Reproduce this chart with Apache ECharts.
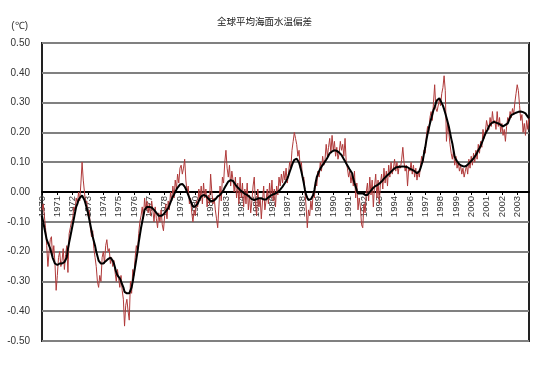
<!DOCTYPE html>
<html>
<head>
<meta charset="utf-8">
<script src="https://cdn.jsdelivr.net/npm/echarts@6/dist/echarts.min.js"></script>
<style>
html,body{margin:0;padding:0;background:#fff;}
#c{width:550px;height:370px;}
</style>
</head>
<body>
<div id="c"></div>
<script>
const chartTitle = '全球平均海面水温偏差';
const unitLabel = '(℃)';
const startYear = 1970;
const yTicks = [-0.5,-0.4,-0.3,-0.2,-0.1,0,0.1,0.2,0.3,0.4,0.5];

// monthly anomaly (red), Jan 1970 - Jun 2004
const monthly = [
-0.06,-0.04,-0.08,-0.12,-0.18,-0.25,-0.20,-0.16,-0.15,-0.22,-0.18,-0.24,
-0.33,-0.28,-0.22,-0.20,-0.25,-0.23,-0.19,-0.26,-0.21,-0.18,-0.27,-0.14,
-0.12,-0.10,-0.09,-0.05,-0.06,-0.02,-0.04,0.00,-0.03,0.03,0.10,0.04,
0.00,-0.04,-0.03,-0.08,-0.06,-0.12,-0.15,-0.13,-0.19,-0.22,-0.25,-0.30,
-0.32,-0.28,-0.30,-0.22,-0.20,-0.24,-0.18,-0.16,-0.20,-0.19,-0.24,-0.22,
-0.25,-0.23,-0.27,-0.30,-0.26,-0.29,-0.32,-0.28,-0.33,-0.36,-0.45,-0.38,
-0.36,-0.40,-0.43,-0.30,-0.34,-0.26,-0.28,-0.22,-0.18,-0.20,-0.14,-0.10,
-0.08,-0.05,-0.09,-0.02,-0.06,-0.03,-0.07,-0.04,-0.08,-0.03,-0.06,-0.10,
-0.05,-0.09,-0.12,-0.07,-0.10,-0.06,-0.11,-0.13,-0.08,-0.04,-0.09,-0.03,
-0.06,0.00,-0.03,0.02,-0.02,0.04,0.01,0.06,0.03,0.08,0.09,0.06,
0.08,0.11,0.04,0.00,0.02,-0.04,-0.02,-0.07,-0.10,-0.06,-0.08,-0.03,
-0.05,0.01,-0.03,0.02,-0.04,0.03,-0.02,0.01,-0.05,-0.01,-0.04,0.06,
0.00,-0.04,-0.02,-0.06,-0.09,-0.12,-0.05,0.02,-0.03,0.05,0.03,0.10,
0.14,0.08,0.05,0.09,0.02,0.07,0.04,0.00,0.05,-0.02,0.03,-0.04,
0.05,-0.02,0.03,-0.05,0.01,-0.04,0.03,-0.06,-0.01,-0.07,-0.03,0.02,
0.05,-0.04,-0.08,0.01,-0.05,-0.02,-0.09,-0.03,0.02,-0.06,-0.03,0.01,
-0.04,0.03,-0.02,0.04,-0.03,0.01,-0.05,0.02,-0.01,0.05,0.02,0.06,
0.03,0.07,0.04,0.08,0.03,0.06,0.10,0.08,0.14,0.17,0.20,0.18,
0.16,0.12,0.14,0.08,0.10,0.04,0.05,0.00,-0.05,-0.12,-0.06,-0.08,
-0.03,-0.06,0.00,-0.02,0.04,0.02,0.07,0.05,0.10,0.07,0.12,0.09,
0.11,0.16,0.12,0.15,0.18,0.13,0.19,0.14,0.17,0.12,0.15,0.11,
0.13,0.17,0.14,0.16,0.12,0.18,0.10,0.08,0.05,0.07,0.03,0.06,
0.02,0.07,-0.02,0.03,-0.06,-0.02,-0.05,-0.11,-0.12,-0.04,-0.07,0.00,
0.03,-0.03,0.05,-0.01,0.04,-0.05,0.02,0.06,-0.02,0.04,-0.04,0.03,
0.06,0.01,0.08,0.03,0.07,0.02,0.09,0.05,0.10,0.06,0.08,0.11,
0.07,0.10,0.06,0.09,0.08,0.11,0.15,0.10,0.07,0.09,0.02,0.08,
0.07,0.10,0.06,0.09,0.05,0.08,0.04,0.07,0.05,0.09,0.12,0.10,
0.14,0.13,0.19,0.22,0.20,0.25,0.27,0.24,0.30,0.36,0.28,0.27,
0.27,0.31,0.29,0.33,0.35,0.39,0.34,0.17,0.23,0.20,0.16,0.13,
0.11,0.14,0.09,0.12,0.08,0.10,0.07,0.09,0.06,0.08,0.05,0.07,
0.09,0.06,0.11,0.08,0.12,0.09,0.13,0.10,0.14,0.11,0.16,0.13,
0.17,0.15,0.21,0.18,0.20,0.24,0.22,0.21,0.25,0.22,0.27,0.23,
0.24,0.21,0.27,0.22,0.25,0.20,0.23,0.19,0.21,0.17,0.22,0.25,
0.24,0.27,0.25,0.28,0.26,0.30,0.33,0.36,0.34,0.29,0.24,0.26,
0.20,0.23,0.19,0.24,0.21,0.25
];

// smoothed anomaly (black)
const smoothed = [
-0.08,-0.10,-0.12,-0.14,-0.16,-0.17,-0.18,-0.19,-0.205,-0.22,-0.23,-0.24,
-0.24,-0.245,-0.245,-0.24,-0.245,-0.24,-0.24,-0.235,-0.23,-0.22,-0.19,-0.17,
-0.15,-0.13,-0.11,-0.09,-0.07,-0.05,-0.04,-0.027,-0.02,-0.015,-0.012,-0.015,
-0.027,-0.04,-0.055,-0.07,-0.09,-0.11,-0.13,-0.15,-0.165,-0.18,-0.20,-0.215,
-0.23,-0.235,-0.24,-0.24,-0.24,-0.235,-0.232,-0.23,-0.225,-0.22,-0.22,-0.225,
-0.23,-0.24,-0.255,-0.27,-0.28,-0.285,-0.29,-0.30,-0.305,-0.32,-0.335,-0.34,
-0.34,-0.34,-0.34,-0.335,-0.32,-0.30,-0.275,-0.25,-0.225,-0.20,-0.17,-0.145,
-0.12,-0.10,-0.08,-0.06,-0.055,-0.05,-0.05,-0.05,-0.05,-0.052,-0.055,-0.06,
-0.065,-0.07,-0.075,-0.08,-0.08,-0.08,-0.078,-0.075,-0.07,-0.065,-0.06,-0.055,
-0.045,-0.035,-0.025,-0.015,-0.008,0.0,0.008,0.015,0.02,0.025,0.027,0.027,
0.025,0.018,0.01,0.0,-0.01,-0.02,-0.03,-0.04,-0.05,-0.05,-0.048,-0.045,
-0.04,-0.03,-0.022,-0.015,-0.012,-0.01,-0.01,-0.013,-0.018,-0.022,-0.027,-0.03,
-0.03,-0.03,-0.028,-0.025,-0.02,-0.015,-0.015,-0.01,-0.005,0.0,0.007,0.015,
0.022,0.028,0.035,0.038,0.04,0.04,0.037,0.032,0.025,0.02,0.015,0.01,
0.007,0.003,0.0,-0.003,-0.006,-0.008,-0.01,-0.013,-0.017,-0.02,-0.024,-0.027,
-0.027,-0.026,-0.024,-0.022,-0.021,-0.02,-0.021,-0.023,-0.025,-0.027,-0.025,-0.022,
-0.018,-0.015,-0.012,-0.01,-0.008,-0.006,-0.005,-0.003,0.0,0.004,0.008,0.012,
0.018,0.024,0.03,0.037,0.045,0.055,0.067,0.078,0.09,0.10,0.108,0.113,
0.112,0.107,0.098,0.085,0.068,0.05,0.03,0.007,-0.01,-0.02,-0.027,-0.027,
-0.024,-0.02,-0.01,0.007,0.03,0.05,0.06,0.07,0.078,0.085,0.09,0.096,
0.102,0.108,0.115,0.12,0.13,0.133,0.136,0.138,0.14,0.14,0.138,0.135,
0.132,0.13,0.124,0.118,0.11,0.103,0.096,0.09,0.082,0.075,0.07,0.063,
0.045,0.03,0.018,0.005,-0.005,-0.005,-0.005,-0.005,-0.005,-0.005,-0.01,-0.015,
-0.01,-0.005,0.0,0.005,0.01,0.013,0.018,0.02,0.022,0.025,0.028,0.03,
0.035,0.04,0.045,0.05,0.053,0.056,0.06,0.063,0.068,0.072,0.076,0.08,
0.082,0.083,0.084,0.085,0.085,0.086,0.086,0.086,0.085,0.085,0.083,0.08,
0.078,0.076,0.074,0.072,0.07,0.068,0.063,0.065,0.07,0.08,0.093,0.107,
0.13,0.15,0.174,0.195,0.213,0.23,0.245,0.26,0.275,0.285,0.298,0.308,
0.314,0.315,0.31,0.298,0.29,0.278,0.264,0.25,0.235,0.22,0.20,0.18,
0.163,0.14,0.118,0.11,0.103,0.097,0.093,0.09,0.088,0.086,0.085,0.085,
0.088,0.092,0.096,0.10,0.104,0.108,0.113,0.118,0.125,0.132,0.14,0.147,
0.155,0.165,0.175,0.186,0.195,0.203,0.21,0.22,0.225,0.23,0.233,0.236,
0.235,0.233,0.232,0.23,0.228,0.225,0.222,0.22,0.222,0.225,0.228,0.23,
0.24,0.25,0.258,0.26,0.262,0.264,0.266,0.268,0.269,0.27,0.27,0.27,
0.268,0.266,0.264,0.258,0.252,0.247
];

// category of each month = its year
const categories = monthly.map((_, i) => String(startYear + Math.floor(i / 12)));

const gridTop = 43, gridBottom = 29, chartH = 370;
const plotH = chartH - gridTop - gridBottom;
// distance of the zero line above the plot bottom (axis range is symmetric)
const zeroOffset = plotH * (0 - yTicks[0]) / (yTicks[yTicks.length - 1] - yTicks[0]);

const chart = echarts.init(document.getElementById('c'), null, {renderer: 'canvas'});
chart.setOption({
  animation: false,
  backgroundColor: '#ffffff',
  title: {
    text: chartTitle,
    left: 212, top: 12,
    textStyle: {fontSize: 9.5, fontWeight: 'normal', color: '#222', fontFamily: 'Noto Sans CJK JP'}
  },
  grid: {left: 42, right: 21, top: gridTop, bottom: gridBottom, show: true, borderColor: '#222', borderWidth: 2, backgroundColor: '#fff'},
  xAxis: {
    type: 'category',
    data: categories,
    boundaryGap: false,
    position: 'bottom',
    offset: -zeroOffset,
    axisLine: {onZero: false, lineStyle: {color: '#000', width: 2}},
    axisTick: {show: true, interval: 12, length: 3, lineStyle: {color: '#000'}},
    axisLabel: {interval: 12, rotate: 90, margin: 4, fontSize: 9.5, color: '#333', fontFamily: 'Liberation Sans'},
    splitLine: {show: false}
  },
  yAxis: {
    type: 'value',
    min: yTicks[0], max: yTicks[yTicks.length - 1], interval: 0.1,
    name: unitLabel,
    nameLocation: 'end',
    nameGap: 12,
    nameTextStyle: {align: 'right', padding: [0, 14, 0, 0], fontSize: 10, color: '#333', fontFamily: 'Liberation Sans'},
    axisLine: {show: false},
    axisTick: {show: false},
    axisLabel: {margin: 12, fontSize: 10, color: '#333', fontFamily: 'Liberation Sans', formatter: v => v.toFixed(2)},
    splitLine: {show: true, lineStyle: {color: '#808080', width: 2}}
  },
  series: [
    {type: 'line', data: monthly, symbol: 'none', lineStyle: {color: '#b03a3a', width: 1}, z: 2},
    {type: 'line', data: smoothed, symbol: 'none', lineStyle: {color: '#000', width: 2}, z: 3}
  ]
});
</script>
</body>
</html>
